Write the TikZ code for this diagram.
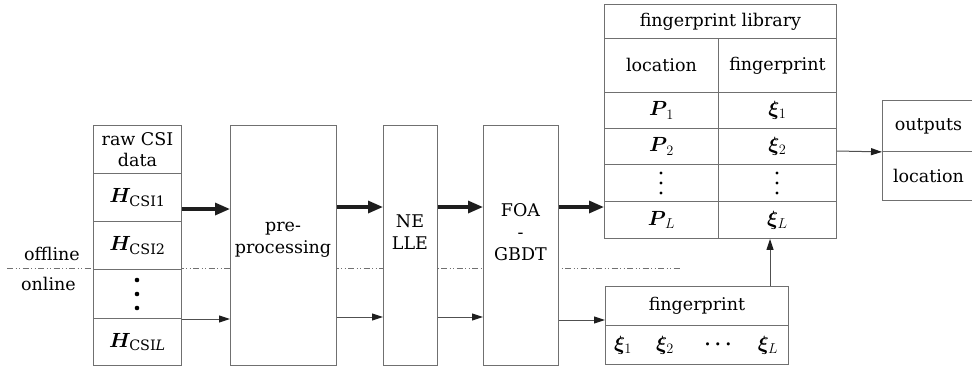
\RequirePackage{fix-cm}
\documentclass[tikz,border=0pt]{standalone}
\usepackage{amsmath}
\usepackage{bm}
\usepackage{fontspec}
\setmainfont{DejaVu Serif}
\usetikzlibrary{arrows.meta}
\definecolor{boxline}{HTML}{707070}
\definecolor{arrowdark}{HTML}{1E1E1E}
\definecolor{thinline}{HTML}{505050}
\tikzset{
  cell/.style={draw=boxline, fill=white, line width=0.9pt, inner sep=0pt,
    anchor=north west, align=center, font=\fontsize{17.5}{20.5}\selectfont},
  symcell/.style={cell, font=\fontsize{20.5}{24}\selectfont},
  label/.style={inner sep=0pt, align=center, font=\fontsize{17.5}{22}\selectfont},
  symlabel/.style={label, font=\fontsize{20.5}{24}\selectfont},
  thickarrow/.style={draw=arrowdark, line width=3.2pt,
    -{Triangle[length=15pt,width=12pt]}},
  thinarrow/.style={draw=thinline, line width=1pt,
    -{Triangle[length=11pt,width=7pt,color=arrowdark]}},
  phaseline/.style={draw=boxline, line width=0.8pt,
    dash pattern=on 6pt off 2.5pt on 1pt off 2.5pt on 1pt off 2.5pt},
  bigdot/.style={fill=black},
}
\begin{document}
\begin{tikzpicture}[x=1pt,y=-1pt]
\useasboundingbox (0,0) rectangle (972,368);

% offline / online boundary
\coordinate (dl) at (7,268);
\coordinate (dr) at (680,268);
\draw[phaseline] (dl) -- (dr);
\node[label, anchor=east] (offline) at (80,254) {offline};
\node[label, anchor=east] (online) at (76,284) {online};

% raw CSI data column
\node[cell, minimum width=88pt, minimum height=48pt] (raw0) at (93,125) {raw CSI\\data};
\node[symcell, minimum width=88pt, minimum height=48pt] (raw1) at (93,173) {$\bm{H}_{\mathrm{CSI1}}$};
\node[symcell, minimum width=88pt, minimum height=48pt] (raw2) at (93,221) {$\bm{H}_{\mathrm{CSI2}}$};
\node[cell, minimum width=88pt, minimum height=49pt] (raw3) at (93,269) {};
\node[symcell, minimum width=88pt, minimum height=47pt] (raw4) at (93,318) {$\bm{H}_{\mathrm{CSI}\mathit{L}}$};
\fill[bigdot] (137,280) circle (2.3pt) (137,294) circle (2.3pt) (137,308) circle (2.3pt);

% processing blocks
\node[cell, minimum width=106pt, minimum height=240pt] (pre) at (230,125) {};
\node[label] (pretext) at (283,240) {pre-\\processing};
\node[cell, minimum width=54pt, minimum height=240pt] (nelle) at (383,125) {};
\node[label] (nelletext) at (410,232) {NE\\LLE};
\node[cell, minimum width=75pt, minimum height=240pt] (foa) at (483,125) {};
\node[label] (foatext) at (520.5,232) {FOA\\-\\GBDT};

% fingerprint library
\node[cell, minimum width=232pt, minimum height=34pt] (libt) at (604,4) {fingerprint library};
\node[cell, minimum width=114pt, minimum height=54pt] (libh1) at (604,38) {location};
\node[cell, minimum width=118pt, minimum height=54pt] (libh2) at (718,38) {fingerprint};
\node[symcell, minimum width=114pt, minimum height=36pt] (lp1) at (604,92) {$\bm{P}_{\,1}$};
\node[symcell, minimum width=118pt, minimum height=36pt] (lx1) at (718,92) {$\bm{\xi}_1$};
\node[symcell, minimum width=114pt, minimum height=36pt] (lp2) at (604,128) {$\bm{P}_{\,2}$};
\node[symcell, minimum width=118pt, minimum height=36pt] (lx2) at (718,128) {$\bm{\xi}_2$};
\node[cell, minimum width=114pt, minimum height=37pt] (lp3) at (604,164) {};
\node[cell, minimum width=118pt, minimum height=37pt] (lx3) at (718,164) {};
\node[symcell, minimum width=114pt, minimum height=37pt] (lp4) at (604,201) {$\bm{P}_{\,L}$};
\node[symcell, minimum width=118pt, minimum height=37pt] (lx4) at (718,201) {$\bm{\xi}_L$};
\fill[bigdot] (661,173) circle (1.6pt) (661,183) circle (1.6pt) (661,193) circle (1.6pt);
\fill[bigdot] (777,173) circle (1.6pt) (777,183) circle (1.6pt) (777,193) circle (1.6pt);

% outputs
\node[cell, minimum width=92pt, minimum height=51pt] (outt) at (882,100) {outputs};
\node[cell, minimum width=92pt, minimum height=49pt] (outl) at (882,151) {location};

% online fingerprint
\node[cell, minimum width=183pt, minimum height=39pt] (fpt) at (605,286) {fingerprint};
\node[cell, minimum width=183pt, minimum height=39pt] (fpb) at (605,325) {};
\node[symlabel] (fx1) at (623,345) {$\bm{\xi}_1$};
\node[symlabel] (fx2) at (665,345) {$\bm{\xi}_2$};
\node[symlabel] (fxd) at (720,345) {$\bm{\cdots}$};
\node[symlabel] (fxl) at (768,345) {$\bm{\xi}_L$};

% offline data flow
\draw[thickarrow] (raw1.east |- 0,209) -- (pre.west |- 0,209);
\draw[thickarrow] (pre.east |- 0,207) -- (nelle.west |- 0,207);
\draw[thickarrow] (nelle.east |- 0,207) -- (foa.west |- 0,207);
\draw[thickarrow] (foa.east |- 0,207) -- (lp4.west |- 0,207);

% online data flow
\draw[thinarrow] (raw4.east |- 0,319) -- (pre.west |- 0,319);
\draw[thinarrow] (pre.east |- 0,317) -- (nelle.west |- 0,317);
\draw[thinarrow] (nelle.east |- 0,317) -- (foa.west |- 0,317);
\draw[thinarrow] (foa.east |- 0,320) -- (fpt.west |- 0,320);
\draw[thinarrow] (fpt.north -| 770,0) -- (lx4.south -| 770,0);
\draw[thinarrow] (lx2.east |- 0,151) -- (outt.south west);
\end{tikzpicture}
\end{document}
